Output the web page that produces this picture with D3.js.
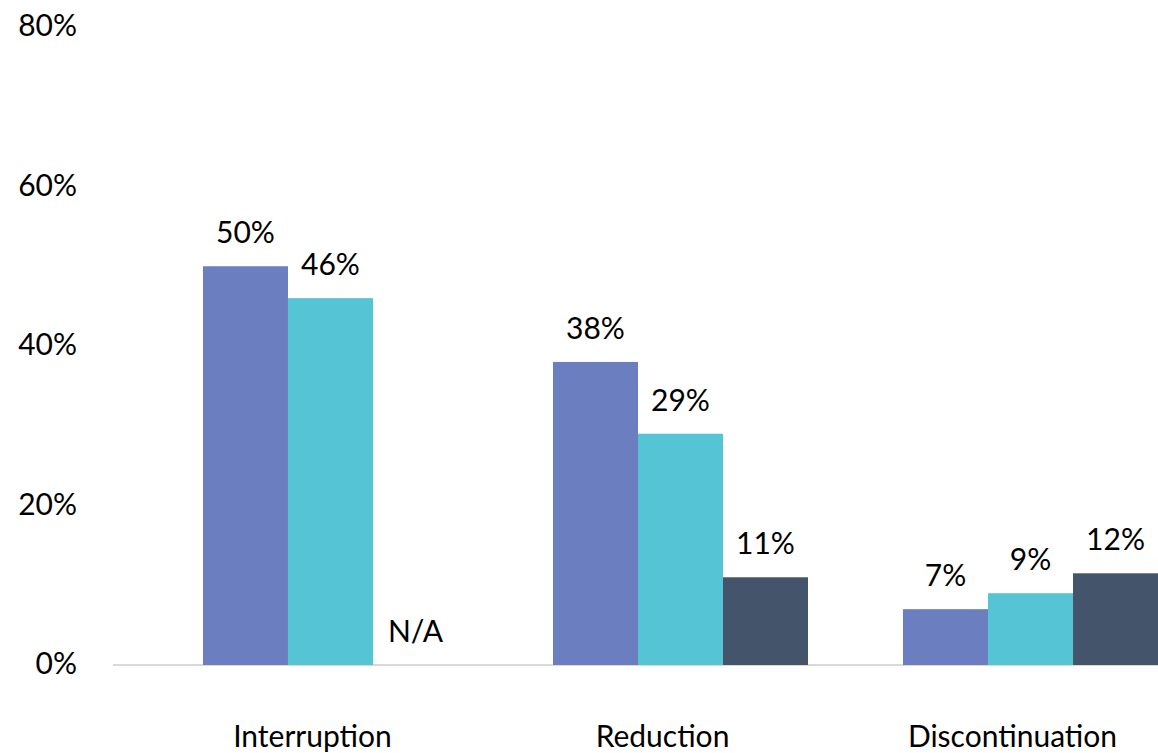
<!DOCTYPE html>
<html><head><meta charset="utf-8">
<script src="https://cdn.jsdelivr.net/npm/d3@7"></script>
<style>html,body{margin:0;padding:0;background:#fff;overflow:hidden}</style>
</head><body>
<svg id="chart" width="1158" height="753"></svg>
<script>
const categories = ["Interruption", "Reduction", "Discontinuation"];
const seriesNames = ["Series A", "Series B", "Series C"];
const seriesA = [50, 38, 7];
const seriesB = [46, 29, 9];
const seriesC = [null, 11, 11.5];
const valueLabelsA = ["50%", "38%", "7%"];
const valueLabelsB = ["46%", "29%", "9%"];
const valueLabelsC = ["N/A", "11%", "12%"];
const yTicks = [0, 20, 40, 60, 80];
const colors = ["#6B7FC0", "#55C5D5", "#44546A"];

const svg = d3.select("#chart");
const font = "Lato, 'Open Sans', sans-serif";
const fs = 30;

const y = d3.scaleLinear().domain([0, 80]).range([665, 27]);
const x0 = d3.scaleBand().domain(categories).range([113, 1248]).paddingInner(95/350).paddingOuter(0.2571);
const x1 = d3.scaleBand().domain(seriesNames).range([0, x0.bandwidth()]);

const seriesVals = [seriesA, seriesB, seriesC];
const seriesLabels = [valueLabelsA, valueLabelsB, valueLabelsC];

const data = [];
categories.forEach((c, i) => seriesNames.forEach((s, j) => data.push({c, s, j, v: seriesVals[j][i], lab: seriesLabels[j][i]})));

// axis baseline
svg.append("line").attr("x1", 113).attr("x2", 1158).attr("y1", y(0)).attr("y2", y(0))
  .attr("stroke", "#D9D9D9").attr("stroke-width", 2);

// y tick labels
svg.append("g").selectAll("text").data(yTicks).join("text")
  .attr("x", 77).attr("y", d => y(d)).attr("dy", "0.3em")
  .attr("text-anchor", "end").attr("font-family", font).attr("font-size", fs).attr("fill", "#000")
  .text(d => d + "%");

// bars
svg.append("g").selectAll("rect").data(data.filter(d => d.v != null)).join("rect")
  .attr("x", d => x0(d.c) + x1(d.s)).attr("width", x1.bandwidth())
  .attr("y", d => y(d.v)).attr("height", d => y(0) - y(d.v))
  .attr("fill", d => colors[d.j]);

// value labels
svg.append("g").selectAll("text").data(data).join("text")
  .attr("x", d => x0(d.c) + x1(d.s) + x1.bandwidth() / 2)
  .attr("y", d => y(d.v == null ? 0 : d.v) - 23)
  .attr("text-anchor", "middle").attr("font-family", font).attr("font-size", fs).attr("fill", "#000")
  .text(d => d.lab);

// category labels
svg.append("g").selectAll("text").data(categories).join("text")
  .attr("x", d => x0(d) + x0.bandwidth() / 2 - 18).attr("y", 747)
  .attr("text-anchor", "middle").attr("font-family", font).attr("font-size", fs).attr("fill", "#000")
  .text(d => d);
</script>
</body></html>
